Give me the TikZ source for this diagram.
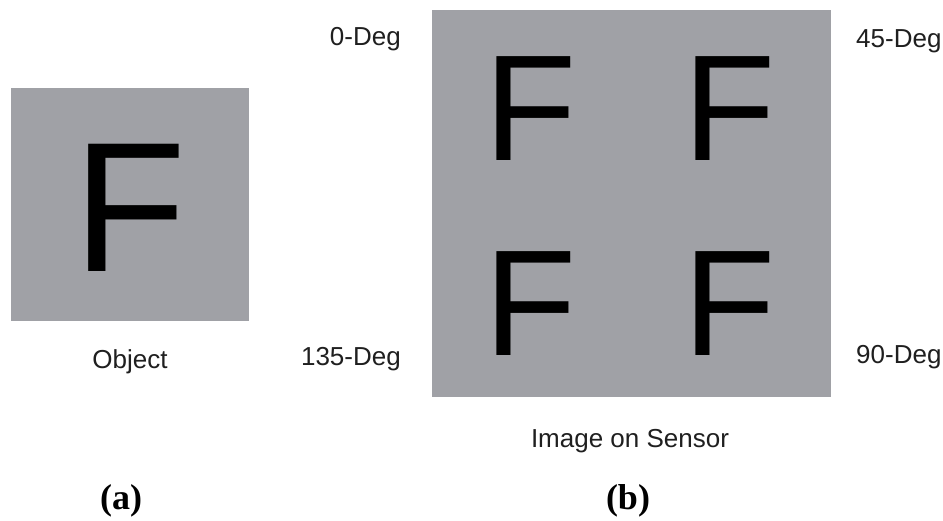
\documentclass[tikz,border=0pt]{standalone}
\usepackage{fontspec}
\setmainfont{Liberation Sans}
\newfontfamily\capfont{Liberation Serif}
\definecolor{panelgray}{RGB}{160,161,166}
\begin{document}
\begin{tikzpicture}[x=1pt,y=-1pt,
  panel/.style={fill=panelgray,draw=none},
  glyph/.style={anchor=base west,inner sep=0pt,text=black},
  lbl/.style={inner sep=0pt,text=black!88,font=\fontsize{26}{31}\selectfont},
  subcap/.style={inner sep=0pt,anchor=base,text=black,font=\capfont\bfseries\fontsize{36}{42}\selectfont}]
  \useasboundingbox[fill=white] (0,0) rectangle (943,520);

  % (a) the object
  \fill[panel] (11,88) rectangle (249,321);
  \node[glyph,font=\fontsize{185}{200}\selectfont] (objF) at (73.5,271) {F};
  \node[lbl,anchor=base] (objlbl) at (130,368) {Object};
  \node[subcap] (capa) at (121,509) {(a)};

  % (b) the four images on the sensor
  \fill[panel] (432,10) rectangle (831,397);
  \node[glyph,font=\fontsize{151}{170}\selectfont] (f0)   at (484.6,160) {F};
  \node[glyph,font=\fontsize{151}{170}\selectfont] (f45)  at (683.6,160) {F};
  \node[glyph,font=\fontsize{151}{170}\selectfont] (f135) at (484.6,355) {F};
  \node[glyph,font=\fontsize{151}{170}\selectfont] (f90)  at (683.6,355) {F};

  \node[lbl,anchor=base east] (l0)   at (401,45)  {0-Deg};
  \node[lbl,anchor=base west] (l45)  at (856,47)  {45-Deg};
  \node[lbl,anchor=base east] (l135) at (401,365) {135-Deg};
  \node[lbl,anchor=base west] (l90)  at (856,363) {90-Deg};
  \node[lbl,anchor=base] (senslbl) at (630,447) {Image on Sensor};
  \node[subcap] (capb) at (628,509) {(b)};
\end{tikzpicture}
\end{document}
